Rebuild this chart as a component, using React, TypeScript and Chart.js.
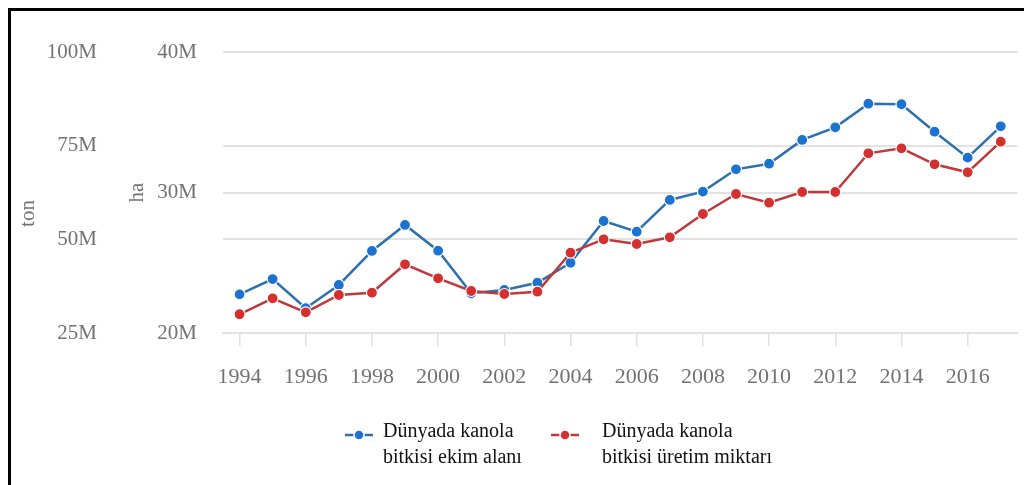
import { useEffect, useRef } from 'react';
import { Chart, registerables } from 'chart.js';

Chart.register(...registerables);

// Years on the category axis
const years = [
  '1994', '1995', '1996', '1997', '1998', '1999', '2000', '2001',
  '2002', '2003', '2004', '2005', '2006', '2007', '2008', '2009',
  '2010', '2011', '2012', '2013', '2014', '2015', '2016', '2017',
];

// Harvested area, million hectares
const ekimAlani = [
  22.75, 23.84, 21.76, 23.42, 25.84, 27.69, 25.86, 22.83,
  23.06, 23.58, 25.0, 27.97, 27.21, 29.47, 30.06, 31.65,
  32.05, 33.74, 34.64, 36.32, 36.28, 34.33, 32.48, 34.71,
];

// Production, million tonnes
const uretimMiktari = [
  30.0, 34.26, 30.52, 35.14, 35.76, 43.34, 39.6, 36.21,
  35.41, 36.02, 46.43, 50.0, 48.75, 50.54, 56.76, 62.1,
  59.78, 62.63, 62.63, 72.96, 74.3, 70.03, 67.89, 76.06,
];

const legendEkim = ['Dünyada kanola', 'bitkisi ekim alanı'];
const legendUretim = ['Dünyada kanola', 'bitkisi üretim miktarı'];

const BLUE_POINT = '#1c73cf';
const BLUE_LINE = '#2e6fad';
const RED_POINT = '#d3302f';
const RED_LINE = '#bf383b';
const GRID = '#e2e2e2';
const TICK_TEXT = '#727272';
const SERIF = "'Liberation Serif', 'Times New Roman', serif";

const legendPlugin = {
  id: 'kanolaLegend',
  afterDraw(chart: any) {
    const ctx = chart.ctx as CanvasRenderingContext2D;
    const items = [
      { x: chart.chartArea.left + 136, gap: 24, line: BLUE_LINE, point: BLUE_POINT, text: legendEkim },
      { x: chart.chartArea.left + 342, gap: 37, line: RED_LINE, point: RED_POINT, text: legendUretim },
    ];
    const markerY = chart.chartArea.bottom + 102;
    ctx.save();
    for (const it of items) {
      ctx.strokeStyle = it.line;
      ctx.lineWidth = 2.5;
      ctx.beginPath();
      ctx.moveTo(it.x - 14, markerY);
      ctx.lineTo(it.x + 14, markerY);
      ctx.stroke();
      ctx.beginPath();
      ctx.arc(it.x, markerY, 5, 0, Math.PI * 2);
      ctx.fillStyle = it.point;
      ctx.fill();
      ctx.lineWidth = 1.5;
      ctx.strokeStyle = '#ffffff';
      ctx.stroke();
      ctx.fillStyle = '#111111';
      ctx.font = `20px ${SERIF}`;
      ctx.textAlign = 'left';
      ctx.textBaseline = 'alphabetic';
      it.text.forEach((t, i) => {
        ctx.fillText(t, it.x + it.gap, markerY + 2 + i * 26);
      });
    }
    ctx.restore();
  },
};

export default function App() {
  const canvasRef = useRef<HTMLCanvasElement | null>(null);

  useEffect(() => {
    if (!canvasRef.current) return;
    const chart = new Chart(canvasRef.current, {
      type: 'line',
      data: {
        labels: years,
        datasets: [
          {
            label: legendEkim.join(' '),
            data: ekimAlani,
            yAxisID: 'yHa',
            order: 1,
            borderColor: BLUE_LINE,
            borderWidth: 2.5,
            pointBackgroundColor: BLUE_POINT,
            pointBorderColor: '#ffffff',
            pointBorderWidth: 1.2,
            pointRadius: 5.5,
            tension: 0,
          },
          {
            label: legendUretim.join(' '),
            data: uretimMiktari,
            yAxisID: 'yTon',
            order: 0,
            borderColor: RED_LINE,
            borderWidth: 2.5,
            pointBackgroundColor: RED_POINT,
            pointBorderColor: '#ffffff',
            pointBorderWidth: 1.2,
            pointRadius: 5.5,
            tension: 0,
          },
        ],
      },
      options: {
        responsive: false,
        animation: false,
        layout: { padding: { top: 41, right: 6, bottom: 92, left: 0 } },
        plugins: {
          legend: { display: false },
          tooltip: { enabled: false },
          title: { display: false },
        },
        scales: {
          x: {
            type: 'category',
            offset: true,
            afterFit: (s: any) => { s.height = 60; },
            grid: {
              offset: false,
              drawOnChartArea: false,
              drawTicks: true,
              tickLength: 13,
              lineWidth: 1.5,
              color: (c: any) => (c.index % 2 === 0 ? GRID : 'rgba(0,0,0,0)'),
            },
            border: { display: true, color: GRID, width: 2 },
            ticks: {
              autoSkip: false,
              maxRotation: 0,
              padding: 18,
              color: TICK_TEXT,
              font: { family: SERIF, size: 22 },
              callback: (_v: any, i: number) => (i % 2 === 0 ? years[i] : ''),
            },
          },
          yHa: {
            type: 'linear',
            position: 'left',
            weight: 0,
            min: 20,
            max: 40,
            afterFit: (s: any) => { s.width = 116; },
            grid: { color: GRID, lineWidth: 2, drawTicks: false },
            border: { display: false },
            ticks: {
              stepSize: 10,
              padding: 26,
              color: TICK_TEXT,
              font: { family: SERIF, size: 21 },
              callback: (v: any) => `${v}M`,
            },
            title: {
              display: true,
              text: 'ha',
              color: TICK_TEXT,
              font: { family: SERIF, size: 21 },
              padding: { top: 18, bottom: 8 },
            },
          },
          yTon: {
            type: 'linear',
            position: 'left',
            weight: 1,
            min: 25,
            max: 100,
            afterFit: (s: any) => { s.width = 96; },
            grid: { color: GRID, lineWidth: 2, drawTicks: false },
            border: { display: false },
            ticks: {
              stepSize: 25,
              padding: 10,
              color: TICK_TEXT,
              font: { family: SERIF, size: 21 },
              callback: (v: any) => `${v}M`,
            },
            title: {
              display: true,
              text: 'ton        ',
              color: TICK_TEXT,
              font: { family: SERIF, size: 21 },
              padding: { top: 5, bottom: 6 },
            },
          },
        },
      },
      plugins: [legendPlugin],
    } as any);
    return () => chart.destroy();
  }, []);

  return (
    <div
      style={{
        position: 'fixed',
        left: 8,
        top: 8,
        width: 1016,
        height: 477,
        boxSizing: 'border-box',
        borderTop: '3px solid #000',
        borderLeft: '3px solid #000',
        background: '#fff',
        overflow: 'hidden',
      }}
    >
      <canvas ref={canvasRef} width={1013} height={474} style={{ display: 'block' }} />
    </div>
  );
}
